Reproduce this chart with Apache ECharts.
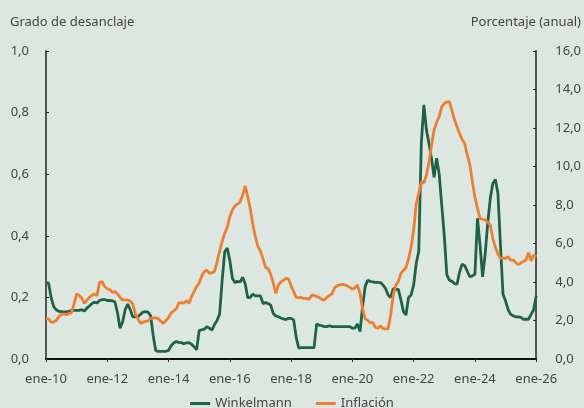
<!DOCTYPE html>
<html>
<head>
<meta charset="utf-8">
<script src="https://cdn.jsdelivr.net/npm/echarts@6/dist/echarts.min.js"></script>
<style>
  html, body { margin: 0; padding: 0; background: #dde7e1; }
  #chart { width: 584px; height: 408px; }
</style>
</head>
<body>
<div id="chart"></div>
<script>
// month names used for the category axis
const monthNames = ['ene','feb','mar','abr','may','jun','jul','ago','sep','oct','nov','dic'];
const firstYear = 2010;
const lastYear = 2026; // only ene-26

// Winkelmann degree of de-anchoring (left axis), monthly ene-10 .. ene-26
const winkelmann = [
  0.247,0.247,0.200,0.170,0.160,0.155,0.154,0.153,0.153,0.155,0.157,0.158,
  0.158,0.158,0.160,0.156,0.165,0.172,0.180,0.184,0.182,0.190,0.193,0.193,
  0.190,0.190,0.189,0.185,0.150,0.100,0.120,0.160,0.178,0.160,0.137,0.137,
  0.137,0.145,0.152,0.154,0.152,0.140,0.075,0.027,0.025,0.025,0.025,0.025,
  0.028,0.043,0.052,0.057,0.054,0.053,0.050,0.052,0.053,0.048,0.040,0.030,
  0.093,0.095,0.097,0.105,0.100,0.094,0.112,0.125,0.146,0.256,0.348,0.360,
  0.320,0.262,0.248,0.252,0.250,0.265,0.245,0.199,0.200,0.211,0.205,0.205,
  0.205,0.180,0.183,0.180,0.175,0.148,0.140,0.137,0.133,0.130,0.128,0.132,
  0.132,0.127,0.070,0.035,0.037,0.037,0.037,0.037,0.037,0.037,0.114,0.110,
  0.108,0.105,0.105,0.108,0.105,0.105,0.105,0.105,0.105,0.105,0.105,0.105,
  0.100,0.100,0.114,0.089,0.170,0.235,0.256,0.252,0.250,0.249,0.249,0.248,
  0.240,0.229,0.208,0.200,0.229,0.226,0.226,0.192,0.154,0.143,0.200,0.208,
  0.240,0.310,0.350,0.700,0.825,0.744,0.700,0.650,0.590,0.652,0.600,0.500,
  0.400,0.273,0.256,0.252,0.245,0.243,0.283,0.308,0.303,0.285,0.267,0.270,
  0.275,0.457,0.370,0.267,0.340,0.440,0.520,0.570,0.583,0.538,0.370,0.210,
  0.188,0.160,0.145,0.140,0.137,0.137,0.135,0.129,0.129,0.129,0.145,0.160,
  0.205
];

// annual inflation, percent (right axis)
const inflacion = [
  2.08,2.08,1.92,1.92,2.00,2.20,2.30,2.34,2.30,2.38,2.40,2.86,
  3.38,3.30,3.17,2.89,3.05,3.20,3.30,3.38,3.30,3.98,4.02,3.76,
  3.65,3.60,3.46,3.50,3.38,3.20,3.07,3.07,3.07,3.00,2.86,2.34,
  2.10,1.85,1.90,1.96,1.98,2.10,2.14,2.14,2.10,1.95,1.85,2.00,
  2.15,2.40,2.50,2.60,2.90,2.93,2.90,3.03,2.89,3.24,3.50,3.76,
  3.95,4.31,4.55,4.62,4.45,4.48,4.55,5.05,5.60,6.10,6.53,6.85,
  7.39,7.74,7.95,8.05,8.15,8.50,8.99,8.45,7.80,7.00,6.35,5.85,
  5.60,5.20,4.75,4.70,4.40,3.95,3.41,3.84,4.00,4.10,4.19,4.15,
  3.80,3.50,3.20,3.19,3.19,3.15,3.15,3.10,3.30,3.32,3.24,3.20,
  3.10,3.06,3.20,3.30,3.38,3.70,3.80,3.85,3.88,3.85,3.80,3.72,
  3.63,3.70,3.84,3.40,2.60,2.10,2.00,1.89,1.89,1.65,1.60,1.72,
  1.59,1.56,1.56,2.30,3.30,3.84,4.02,4.45,4.60,4.75,5.20,5.80,
  6.70,8.05,8.60,9.20,9.15,9.56,10.20,11.10,11.90,12.30,12.60,13.10,
  13.28,13.35,13.37,12.90,12.42,12.07,11.70,11.40,11.20,10.60,10.10,9.20,
  8.40,7.83,7.30,7.26,7.23,7.10,6.96,6.27,5.80,5.45,5.23,5.23,
  5.23,5.31,5.14,5.14,5.00,4.90,5.00,5.06,5.14,5.52,5.10,5.40,
  5.30
];

const categories = [];
for (let y = firstYear; y <= lastYear; y++) {
  for (let m = 0; m < 12; m++) {
    if (y === lastYear && m > 0) break;
    categories.push(monthNames[m] + '-' + String(y).slice(2));
  }
}

const textColor = '#444';
const font = 'Noto Sans';
const comma = v => v.toFixed(1).replace('.', ',');

const chart = echarts.init(document.getElementById('chart'), null, { renderer: 'canvas' });
chart.setOption({
  backgroundColor: '#dde7e1',
  animation: false,
  textStyle: { fontFamily: font },
  title: [
    {
      text: 'Grado de desanclaje',
      left: 10, top: 16, padding: 0,
      textStyle: { fontSize: 13, fontWeight: 'normal', color: textColor, fontFamily: font }
    },
    {
      text: 'Porcentaje (anual)',
      right: 3, top: 16, padding: 0,
      textStyle: { fontSize: 13, fontWeight: 'normal', color: textColor, fontFamily: font }
    }
  ],
  grid: { left: 46, right: 45, top: 51, bottom: 49, containLabel: false },
  legend: {
    bottom: -7,
    left: 'center',
    icon: 'rect',
    itemWidth: 20,
    itemHeight: 3,
    itemGap: 24,
    textStyle: { fontSize: 13, color: textColor, fontFamily: font },
    data: ['Winkelmann', 'Inflación']
  },
  xAxis: {
    type: 'category',
    boundaryGap: false,
    data: categories,
    axisLine: { lineStyle: { color: '#111', width: 2 } },
    axisTick: { show: true, interval: 23, length: 3, lineStyle: { color: '#333' } },
    axisLabel: { interval: 23, margin: 14, fontSize: 13, color: textColor, fontFamily: font },
    splitLine: { show: false }
  },
  yAxis: [
    {
      type: 'value', min: 0, max: 1, interval: 0.2,
      axisLine: { show: true, lineStyle: { color: '#555', width: 2 } },
      axisTick: { show: true, inside: true, length: 3, lineStyle: { color: '#222' } },
      axisLabel: { margin: 17, fontSize: 13, color: textColor, fontFamily: font, formatter: comma },
      splitLine: { show: false }
    },
    {
      type: 'value', min: 0, max: 16, interval: 2,
      position: 'right',
      axisLine: { show: true, lineStyle: { color: '#555', width: 2 } },
      axisTick: { show: true, inside: true, length: 3, lineStyle: { color: '#222' } },
      axisLabel: { margin: 19, fontSize: 13, color: textColor, fontFamily: font, formatter: comma },
      splitLine: { show: false }
    }
  ],
  series: [
    {
      name: 'Winkelmann',
      type: 'line',
      yAxisIndex: 0,
      symbol: 'none',
      data: winkelmann,
      itemStyle: { color: '#1f6347' },
      lineStyle: { color: '#1f6347', width: 2.8 }
    },
    {
      name: 'Inflación',
      type: 'line',
      yAxisIndex: 1,
      symbol: 'none',
      data: inflacion,
      itemStyle: { color: '#ef7f2f' },
      lineStyle: { color: '#ef7f2f', width: 2.8 }
    }
  ]
});
</script>
</body>
</html>
